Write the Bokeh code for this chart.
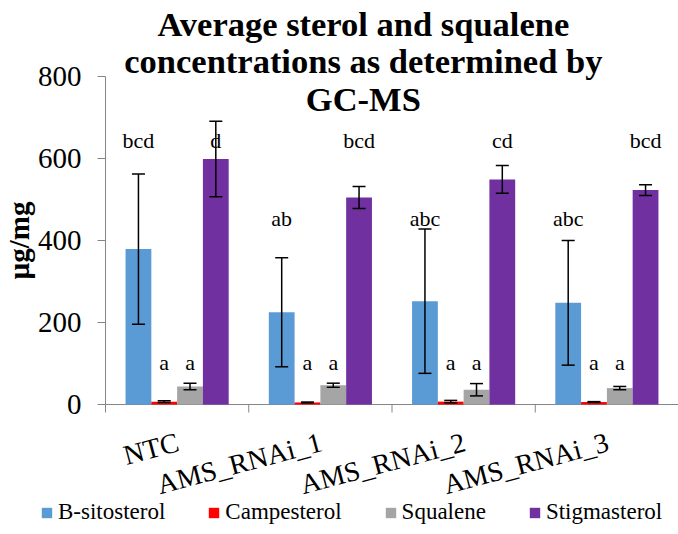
import math
from bokeh.plotting import figure
from bokeh.models import (ColumnDataSource, Range1d, Whisker, TeeHead,
                          Legend, LegendItem, Label)
from bokeh.core.properties import value
from bokeh.embed import file_html
from bokeh.resources import INLINE

# ---- data ----
groups = ["NTC", "AMS_RNAi_1", "AMS_RNAi_2", "AMS_RNAi_3"]
series = ["B-sitosterol", "Campesterol", "Squalene", "Stigmasterol"]
colors = ["#5B9BD5", "#FF0000", "#A5A5A5", "#7030A0"]

b_sitosterol = [379, 225, 252, 248]
b_sitosterol_err = [183, 133, 176, 152]
campesterol = [7, 5, 7, 6]
campesterol_err = [2, 1, 3, 1]
squalene = [44, 47, 36, 40]
squalene_err = [8, 5, 15, 4]
stigmasterol = [599, 505, 549, 523]
stigmasterol_err = [92, 27, 34, 13]

b_sitosterol_letters = ["bcd", "ab", "abc", "abc"]
campesterol_letters = ["a", "a", "a", "a"]
squalene_letters = ["a", "a", "a", "a"]
stigmasterol_letters = ["d", "bcd", "cd", "bcd"]

b_sitosterol_letter_y = [644, 454, 454, 454]
campesterol_letter_y = [103, 103, 103, 103]
squalene_letter_y = [103, 103, 103, 103]
stigmasterol_letter_y = [644, 644, 644, 644]

y_ticks = [0, 200, 400, 600, 800]
y_tick_labels = ["0", "200", "400", "600", "800"]
title_lines = ["Average sterol and squalene", "concentrations as determined by", "GC-MS"]
y_label = "µg/mg"

values = [b_sitosterol, campesterol, squalene, stigmasterol]
errors = [b_sitosterol_err, campesterol_err, squalene_err, stigmasterol_err]
letters = [b_sitosterol_letters, campesterol_letters, squalene_letters, stigmasterol_letters]
letter_ys = [b_sitosterol_letter_y, campesterol_letter_y, squalene_letter_y, stigmasterol_letter_y]

FONT = "Liberation Serif"
FONT_REG = "'Liberation Serif', 'Times New Roman', serif"
AXIS_COLOR = "#868686"
bar_w = 0.18
offsets = [-0.27, -0.09, 0.09, 0.27]

W, H = 678, 534
LEFT_PX = 105           # canvas x of the value axis
ZERO_PX = 404           # canvas y of value 0
PX_PER_CAT = (W - LEFT_PX) / len(groups)
PX_PER_UNIT = 0.41
y_max = max(y_ticks)

p = figure(width=W, height=H,
           x_range=Range1d(-LEFT_PX / PX_PER_CAT, len(groups)),
           y_range=Range1d(-(H - ZERO_PX) / PX_PER_UNIT, ZERO_PX / PX_PER_UNIT),
           x_axis_location=None, y_axis_location=None,
           output_backend="svg", toolbar_location=None,
           min_border=0)
p.xgrid.visible = False
p.ygrid.visible = False
p.outline_line_color = None
p.background_fill_color = "white"
p.border_fill_color = "white"

# ---- axes (value axis at x=0, category axis at y=0) ----
p.segment(x0=[0, 0], y0=[0, 0], x1=[0, len(groups)], y1=[y_max, 0],
          line_color=AXIS_COLOR, line_width=1)
p.ray(x=[0] * len(y_ticks), y=y_ticks, length=8, length_units="screen", angle=math.pi,
      line_color=AXIS_COLOR, line_width=1)
p.ray(x=list(range(len(groups) + 1)), y=[0] * (len(groups) + 1), length=8,
      length_units="screen", angle=-math.pi / 2, line_color=AXIS_COLOR, line_width=1)
p.text(x=[0] * len(y_ticks), y=y_ticks, text=y_tick_labels, text_align="right",
       text_baseline="middle", x_offset=-24, y_offset=0,
       text_font=value(FONT_REG), text_font_size="29px", text_color="black")
p.text(x=[0], y=[y_max / 2], text=[y_label], angle=math.pi / 2, text_align="center",
       text_baseline="middle", x_offset=-87,
       text_font=value(FONT), text_font_size="29px", text_font_style="bold", text_color="black")

# category labels (slanted, below the axis)
cat_src = ColumnDataSource(dict(x=[i + 0.5 for i in range(len(groups))],
                                y=[0] * len(groups), text=groups))
p.text(x="x", y="y", text="text", source=cat_src, angle=0.26, text_align="right",
       text_baseline="top", x_offset=-3, y_offset=22,
       text_font=value(FONT_REG), text_font_size="28px", text_color="black")

# ---- bars, error bars, letters ----
renderers = []
for s, vals, errs, lets, lys, col, off in zip(series, values, errors, letters, letter_ys, colors, offsets):
    xs = [i + 0.5 + off for i in range(len(groups))]
    src = ColumnDataSource(dict(x=xs, top=vals,
                                upper=[v + e for v, e in zip(vals, errs)],
                                lower=[v - e for v, e in zip(vals, errs)],
                                lab=lets, ly=lys))
    r = p.vbar(x="x", top="top", width=bar_w, bottom=0, source=src, fill_color=col, line_color=None)
    renderers.append((s, r))
    w = Whisker(base="x", upper="upper", lower="lower", source=src, line_color="black",
                line_width=1.5, level="annotation",
                upper_head=TeeHead(size=13, line_width=1.5, line_color="black"),
                lower_head=TeeHead(size=13, line_width=1.5, line_color="black"))
    p.add_layout(w)
    p.text(x="x", y="ly", text="lab", source=src, text_align="center", text_baseline="middle",
           text_font=value(FONT_REG), text_font_size="22px", text_color="black")

# ---- title ----
title_y = [929, 839, 746]
for t, ty in zip(title_lines, title_y):
    p.add_layout(Label(x=1.8, y=ty, text=t, text_align="center", text_baseline="middle",
                       text_font=FONT, text_font_size="34.5px", text_font_style="bold",
                       text_color="black"))

# ---- legend ----
legend = Legend(items=[LegendItem(label=s, renderers=[r]) for s, r in renderers],
                orientation="horizontal", location=(40, 9),
                glyph_width=13, glyph_height=13, label_standoff=5, spacing=42,
                padding=0, margin=0, border_line_color=None, background_fill_alpha=0,
                label_text_font=FONT_REG, label_text_font_size="23px", label_text_color="black")
p.add_layout(legend, "center")

open("out.html", "w").write(file_html(p, INLINE))
